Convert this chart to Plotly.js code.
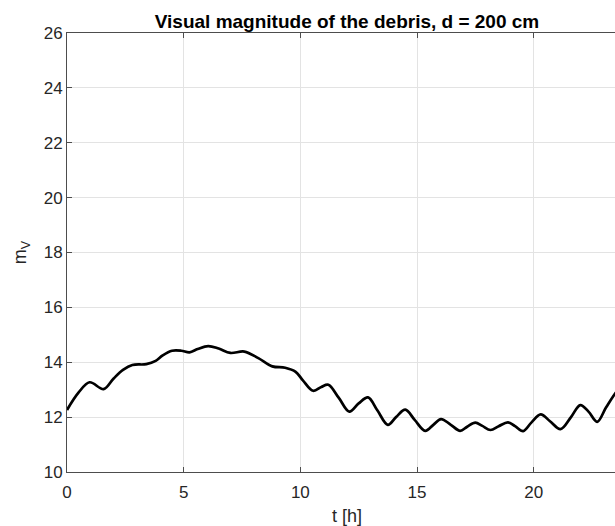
<!DOCTYPE html>
<html>
<head>
<meta charset="utf-8">
<script src="https://cdn.plot.ly/plotly-3.0.1.min.js"></script>
<style>
html, body { margin: 0; padding: 0; overflow: hidden; background: #fff; }
#chart { width: 628px; height: 526px; }
</style>
</head>
<body>
<div id="chart"></div>
<script>
const tHours = [0, 0.5, 0.97, 1.57, 2.0, 2.4, 2.8, 3.4, 3.8, 4.1, 4.5, 4.9, 5.25, 5.6, 6.05, 6.5, 7.0, 7.6, 8.2, 8.8, 9.35, 9.8, 10.1, 10.55, 10.9, 11.2, 11.65, 12.1, 12.5, 12.9, 13.3, 13.75, 14.1, 14.5, 14.9, 15.35, 15.7, 16.03, 16.45, 16.85, 17.15, 17.5, 17.8, 18.15, 18.5, 18.9, 19.2, 19.55, 19.9, 20.3, 20.7, 21.15, 21.6, 22.0, 22.35, 22.72, 23.1, 23.5, 24.0];
const magV = [12.26, 12.9, 13.27, 13.02, 13.41, 13.72, 13.9, 13.93, 14.05, 14.25, 14.42, 14.42, 14.36, 14.48, 14.59, 14.5, 14.34, 14.39, 14.15, 13.85, 13.8, 13.65, 13.35, 12.96, 13.1, 13.18, 12.7, 12.2, 12.5, 12.72, 12.25, 11.72, 12.0, 12.27, 11.9, 11.5, 11.72, 11.93, 11.72, 11.5, 11.65, 11.8, 11.68, 11.53, 11.67, 11.81, 11.67, 11.49, 11.8, 12.1, 11.85, 11.56, 12.0, 12.44, 12.2, 11.83, 12.35, 12.87, 13.4];
const xTicks = [0, 5, 10, 15, 20];
const yTicks = [10, 12, 14, 16, 18, 20, 22, 24, 26];
const titleText = "<b>Visual magnitude of the debris, d = 200 cm</b>";
const xLabel = "t [h]";
const yLabel = "m<sub>V</sub>";

const font = "Liberation Sans, Arial, Helvetica, sans-serif";
const trace = {
  x: tHours, y: magV, type: "scatter", mode: "lines",
  line: { color: "#000000", width: 2.7, shape: "spline", smoothing: 1.0 },
  hoverinfo: "skip"
};
const layout = {
  width: 628, height: 526,
  margin: { l: 67, r: 1, t: 33, b: 54 },
  paper_bgcolor: "#ffffff", plot_bgcolor: "#ffffff",
  showlegend: false,
  font: { family: font, size: 17, color: "#262626" },
  title: { text: titleText, font: { family: font, size: 19, color: "#000000" },
           x: 0.5, xref: "paper", xanchor: "center", y: 1 - 21 / 526, yref: "container", yanchor: "middle" },
  xaxis: {
    range: [0, 24], tickvals: xTicks, ticktext: xTicks.map(String),
    showgrid: true, gridcolor: "#e3e3e3", gridwidth: 1,
    zeroline: false, showline: true, linecolor: "#4d4d4d", linewidth: 1,
    mirror: "ticks", ticks: "inside", ticklen: 5, tickcolor: "#4d4d4d",
    ticklabelstandoff: 5,
    tickfont: { family: font, size: 17, color: "#262626" },
    title: { text: xLabel, font: { family: font, size: 18, color: "#262626" }, standoff: 8 }
  },
  yaxis: {
    range: [10, 26], tickvals: yTicks, ticktext: yTicks.map(String),
    showgrid: true, gridcolor: "#e3e3e3", gridwidth: 1,
    zeroline: false, showline: true, linecolor: "#4d4d4d", linewidth: 1,
    mirror: false, ticks: "inside", ticklen: 5, tickcolor: "#4d4d4d",
    tickfont: { family: font, size: 17, color: "#262626" },
    title: { text: yLabel, font: { family: font, size: 18, color: "#262626" }, standoff: 12 }
  }
};
Plotly.newPlot("chart", [trace], layout, { staticPlot: true, displayModeBar: false });
</script>
</body>
</html>
